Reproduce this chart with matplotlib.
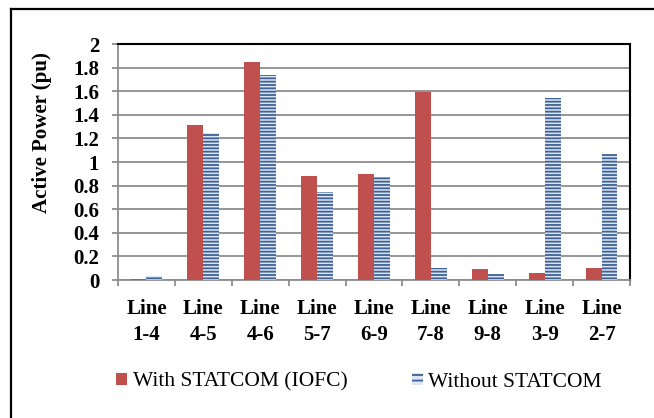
import matplotlib.pyplot as plt
import numpy as np
from matplotlib.lines import Line2D
from matplotlib.patches import Patch

plt.rcParams['font.family'] = ['Liberation Serif', 'DejaVu Serif']
plt.rcParams['hatch.linewidth'] = 1.3

# Active power flow per line, with and without the STATCOM
lines = ['1-4', '4-5', '4-6', '5-7', '6-9', '7-8', '9-8', '3-9', '2-7']
with_statcom = [0.005, 1.31, 1.85, 0.88, 0.90, 1.59, 0.09, 0.06, 0.10]
without_statcom = [0.03, 1.25, 1.74, 0.75, 0.87, 0.10, 0.05, 1.54, 1.07]

red = '#C0504D'
stripe = '#3F6296'
stripe_bg = '#DCE5F1'

fig = plt.figure(figsize=(6.54, 4.18), dpi=100)
ax = fig.add_axes([118 / 654, 1 - 280 / 418, 512 / 654, 236 / 418])

x = np.arange(len(lines))
w = 0.28
ax.bar(x - w / 2, with_statcom, w, color=red, linewidth=0, zorder=3)
ax.bar(x + w / 2, without_statcom, w, facecolor=stripe_bg, edgecolor=stripe,
       hatch='-----', linewidth=0, zorder=3)

ax.set_xlim(-0.5, len(lines) - 0.5)
ax.set_ylim(0, 2)
yt = np.arange(0, 2.01, 0.2).round(1)
ax.set_yticks(yt)
ax.set_yticklabels([f'{v:g}' for v in yt])
ax.yaxis.grid(True, color='#8E8E8E', linewidth=1.3, zorder=0)
ax.set_axisbelow(True)

# category labels between boundary ticks
ax.set_xticks(np.arange(-0.5, len(lines), 1.0))
ax.set_xticklabels([])
ax.set_xticks(x, minor=True)
ax.set_xticklabels([f'Line\n{s}' for s in lines], minor=True,
                   fontsize=15, fontweight='bold', linespacing=1.4)
ax.tick_params(axis='x', which='minor', length=0, pad=14)
ax.tick_params(axis='x', which='major', length=4.5, width=1.3, color='#8E8E8E')
ax.tick_params(axis='y', length=4.5, width=1.3, color='#8E8E8E', pad=9,
               labelsize=15)
for lab in ax.get_yticklabels():
    lab.set_fontweight('bold')

ax.set_ylabel('Active Power (pu)', fontsize=15, fontweight='bold')
ax.yaxis.set_label_coords(-0.129, 0.625)

for side in ['top', 'right']:
    ax.spines[side].set_color('black')
    ax.spines[side].set_linewidth(1.5)
for side in ['left', 'bottom']:
    ax.spines[side].set_color('#8E8E8E')
    ax.spines[side].set_linewidth(1.3)

handles = [Patch(facecolor=red, linewidth=0),
           Patch(facecolor=stripe_bg, edgecolor=stripe, hatch='---', linewidth=0)]
fig.legend(handles, ['With STATCOM (IOFC)', 'Without STATCOM'],
           loc='center', bbox_to_anchor=(359 / 654, 1 - 382 / 418),
           ncol=2, frameon=False, fontsize=15.5, handlelength=0.5,
           handleheight=0.5, handletextpad=0.25, columnspacing=3.0)

# outer chart border
fig.add_artist(Line2D([11 / 654, 11 / 654], [0, 1 - 9 / 418], color='black',
                      linewidth=1.6, transform=fig.transFigure))
fig.add_artist(Line2D([11 / 654, 1], [1 - 9 / 418, 1 - 9 / 418], color='black',
                      linewidth=1.6, transform=fig.transFigure))

fig.savefig('out.png', dpi=100)
